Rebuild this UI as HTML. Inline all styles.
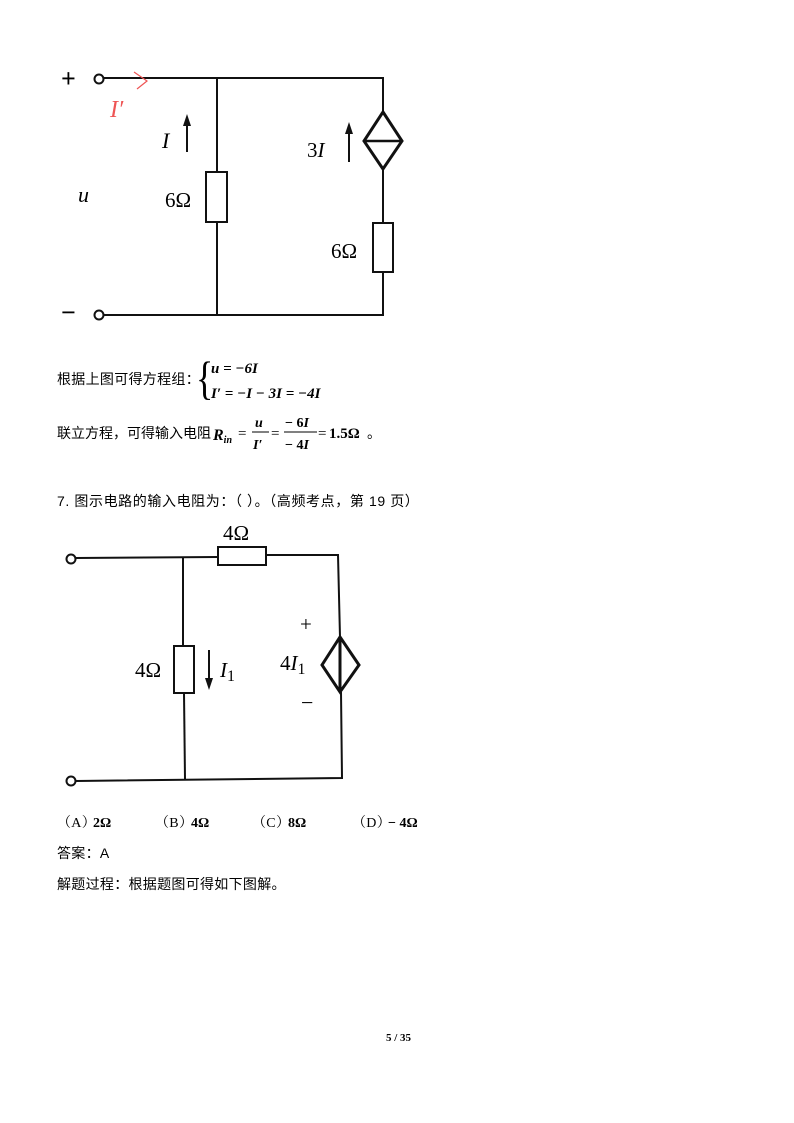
<!DOCTYPE html>
<html><head><meta charset="utf-8"><style>
html,body{margin:0;padding:0;background:#fff;}
svg{display:block;}
.cj{font-family:"Liberation Sans","Noto Sans CJK SC",sans-serif;font-size:14px;letter-spacing:0.3px;fill:#000;}
.sf{font-family:"Liberation Serif",serif;fill:#000;}
</style></head><body>
<svg width="794" height="1123" viewBox="0 0 794 1123" xmlns="http://www.w3.org/2000/svg">
<g stroke="#111" stroke-width="2" fill="none">
 <circle cx="99" cy="79" r="4.5" fill="#fff"/>
 <circle cx="99" cy="315" r="4.5" fill="#fff"/>
 <polyline points="104,78 383,78 383,112"/>
 <polyline points="104,315 383,315 383,272"/>
 <line x1="217" y1="78" x2="217" y2="172"/>
 <line x1="217" y1="222" x2="217" y2="315"/>
 <rect x="206" y="172" width="21" height="50"/>
 <polygon points="383,112 402,141 383,169 364,141" stroke-width="3"/>
 <line x1="364" y1="141" x2="402" y2="141" stroke-width="2.5"/>
 <line x1="383" y1="169" x2="383" y2="223"/>
 <rect x="373" y="223" width="20" height="49"/>
 <line x1="187" y1="152" x2="187" y2="124"/>
 <line x1="349" y1="162" x2="349" y2="132"/>
 <circle cx="71" cy="559" r="4.5" fill="#fff"/>
 <circle cx="71" cy="781" r="4.5" fill="#fff"/>
 <polyline points="76,558 218,557"/>
 <polyline points="266,555 338,555 340,637"/>
 <rect x="218" y="547" width="48" height="18"/>
 <line x1="183" y1="558" x2="183" y2="646"/>
 <line x1="184" y1="693" x2="185" y2="779"/>
 <rect x="174" y="646" width="20" height="47"/>
 <polyline points="76,781 342,778 341,692"/>
 <polygon points="340,637 359,665 340,692 322,665" stroke-width="3"/>
 <line x1="340" y1="637" x2="340" y2="692" stroke-width="3"/>
 <line x1="209" y1="650" x2="209" y2="680"/>
</g>
<g fill="#111">
 <polygon points="187,114 183,126 191,126"/>
 <polygon points="349,122 345,134 353,134"/>
 <polygon points="209,690 205,678 213,678"/>
</g>
<polyline points="134,72 147,81 137,89" stroke="#e55" stroke-width="1.2" fill="none"/>
<text x="110" y="117" class="sf" font-size="24" font-style="italic" style="fill:#e55">I′</text>
<text x="61" y="87" class="sf" font-size="26" font-weight="bold">+</text>
<text x="61" y="321" class="sf" font-size="26" font-weight="bold">−</text>
<text x="78" y="202" class="sf" font-size="22" font-style="italic">u</text>
<text x="162" y="148" class="sf" font-size="22" font-style="italic">I</text>
<text x="165" y="207" class="sf" font-size="21">6Ω</text>
<text x="307" y="157" class="sf" font-size="21">3<tspan font-style="italic">I</tspan></text>
<text x="331" y="258" class="sf" font-size="21">6Ω</text>
<text x="57" y="384" class="cj">根据上图可得方程组：</text>
<text x="196" y="394" class="sf" font-size="36" transform="translate(196,394) scale(1,1.3) translate(-196,-394)">{</text>
<text x="211" y="373" class="sf" font-size="15" font-weight="bold" font-style="italic">u = −6I</text>
<text x="211" y="398" class="sf" font-size="15" font-weight="bold" font-style="italic">I′ = −I − 3I = −4I</text>
<text x="57" y="438" class="cj" style="letter-spacing:0">联立方程，可得输入电阻</text>
<text x="213" y="440" class="sf" font-size="16" font-weight="bold" font-style="italic">R<tspan font-size="10" dy="3">in</tspan></text>
<text x="238" y="438" class="sf" font-size="15">=</text>
<text x="255" y="427" class="sf" font-size="14" font-weight="bold" font-style="italic">u</text>
<line x1="252" y1="432" x2="269" y2="432" stroke="#000" stroke-width="1"/>
<text x="253" y="449" class="sf" font-size="14" font-weight="bold" font-style="italic">I′</text>
<text x="271" y="438" class="sf" font-size="15">=</text>
<text x="285" y="427" class="sf" font-size="14" font-weight="bold">− 6<tspan font-style="italic">I</tspan></text>
<line x1="284" y1="432" x2="317" y2="432" stroke="#000" stroke-width="1"/>
<text x="285" y="449" class="sf" font-size="14" font-weight="bold">− 4<tspan font-style="italic">I</tspan></text>
<text x="318" y="438" class="sf" font-size="15">=</text>
<text x="329" y="438" class="sf" font-size="15" font-weight="bold">1.5Ω</text>
<text x="367" y="438" class="cj">。</text>
<text x="57" y="506" class="cj" style="letter-spacing:0.6px">7.  图示电路的输入电阻为：（    ）。（高频考点，第 19 页）</text>
<text x="223" y="540" class="sf" font-size="21">4Ω</text>
<text x="135" y="677" class="sf" font-size="21">4Ω</text>
<text x="220" y="677" class="sf" font-size="21" font-style="italic">I<tspan font-style="normal" font-size="16" dy="4">1</tspan></text>
<text x="300" y="631" class="sf" font-size="21">+</text>
<text x="301" y="710" class="sf" font-size="22">−</text>
<text x="280" y="670" class="sf" font-size="21">4<tspan font-style="italic">I</tspan><tspan font-size="16" dy="4">1</tspan></text>
<text x="57" y="827" class="cj" style="font-family:'Liberation Serif','Noto Serif CJK SC',serif">（A）</text><text x="93" y="827" class="sf" font-size="14" font-weight="bold">2Ω</text>
<text x="155" y="827" class="cj" style="font-family:'Liberation Serif','Noto Serif CJK SC',serif">（B）</text><text x="191" y="827" class="sf" font-size="14" font-weight="bold">4Ω</text>
<text x="252" y="827" class="cj" style="font-family:'Liberation Serif','Noto Serif CJK SC',serif">（C）</text><text x="288" y="827" class="sf" font-size="14" font-weight="bold">8Ω</text>
<text x="352" y="827" class="cj" style="font-family:'Liberation Serif','Noto Serif CJK SC',serif">（D）</text><text x="388" y="827" class="sf" font-size="14" font-weight="bold">− 4Ω</text>
<text x="57" y="858" class="cj">答案：A</text>
<text x="57" y="889" class="cj">解题过程：根据题图可得如下图解。</text>
<text x="386" y="1041" class="sf" font-size="11" font-weight="bold">5 / 35</text>
</svg>
</body></html>
